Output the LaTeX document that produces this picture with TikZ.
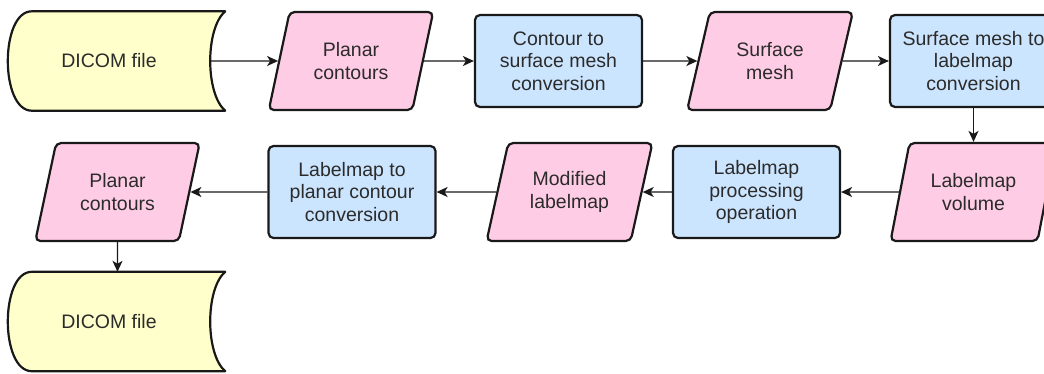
\documentclass[tikz,border=0pt]{standalone}
\usepackage{fontspec}
\setmainfont{Liberation Sans}
\usetikzlibrary{shapes.geometric,arrows.meta,backgrounds}
\definecolor{filebg}{HTML}{FFFFCC}
\definecolor{databg}{HTML}{FFCCE6}
\definecolor{procbg}{HTML}{CCE5FF}
\definecolor{ink}{HTML}{2B2B2B}
\tikzset{%
  shapeline/.style = {draw=black!90, line width=2.2pt},%
  procnode/.style  = {shape=rectangle, rounded corners=5pt, shapeline,%
                      fill=procbg, align=center, inner sep=0pt,%
                      minimum width=167pt, minimum height=92pt},%
  datanode/.style  = {shape=trapezium, trapezium left angle=71,%
                      trapezium right angle=109, trapezium stretches=true,%
                      rounded corners=5pt, shapeline, fill=databg,%
                      align=center, inner sep=0pt,%
                      minimum width=166pt, minimum height=98pt},%
  filenode/.style  = {shape=rectangle, inner sep=0pt,%
                      minimum width=202pt, minimum height=99pt},%
  fileline/.style  = {shapeline, fill=filebg, line join=round},%
  flow/.style      = {draw=black!90, line width=1.4pt,%
                      -{Stealth[length=11pt,width=10pt,inset=3pt]}}%
}
\begin{document}
\begin{tikzpicture}[x=1pt,y=-1pt,
	every node/.style = {font=\fontsize{19.5}{22.5}\selectfont, text=ink}]
	\useasboundingbox (0,0) rectangle (1044,373);
	\clip (0,0) rectangle (1044,373);
	\node [filenode] (dcm1) at (109,61)  {DICOM file};
	\node [datanode] (pc1)  at (351,61)  {Planar\\contours};
	\node [procnode] (b1)   at (558.5,61) {Contour to\\surface mesh\\conversion};
	\node [datanode] (sm)   at (770,61)  {Surface\\mesh};
	\node [procnode] (b2)   at (973.5,61) {Surface mesh to\\labelmap\\conversion};
	\node [datanode] (lv)   at (973.5,192) {Labelmap\\volume};
	\node [procnode] (b3)   at (756.5,192) {Labelmap\\processing\\operation};
	\node [datanode] (ml)   at (569.5,192) {Modified\\labelmap};
	\node [procnode] (b4)   at (352,192) {Labelmap to\\planar contour\\conversion};
	\node [datanode] (pc2)  at (117.5,192) {Planar\\contours};
	\node [filenode] (dcm2) at (109,321.5) {DICOM file};
	\begin{scope}[on background layer]
		\foreach \f in {dcm1,dcm2}
			\draw [fileline] ([xshift=24pt]\f.north west) -- ([xshift=15pt]\f.north east)
				.. controls ([xshift=-5pt,yshift=-17pt]\f.north east) and ([xshift=-5pt,yshift=17pt]\f.south east) .. ([xshift=15pt]\f.south east)
				-- ([xshift=24pt]\f.south west)
				.. controls ([xshift=-8pt]\f.south west) and ([xshift=-8pt]\f.north west) .. cycle;
	\end{scope}
	\draw [flow] (dcm1) -- (pc1);
	\draw [flow] (pc1) -- (b1);
	\draw [flow] (b1) -- (sm);
	\draw [flow] (sm) -- (b2);
	\draw [flow] (b2) -- (lv);
	\draw [flow] (lv) -- (b3);
	\draw [flow] (b3) -- (ml);
	\draw [flow] (ml) -- (b4);
	\draw [flow] (b4) -- (pc2);
	\draw [flow] (pc2) -- (pc2 |- dcm2.north);
\end{tikzpicture}
\end{document}
